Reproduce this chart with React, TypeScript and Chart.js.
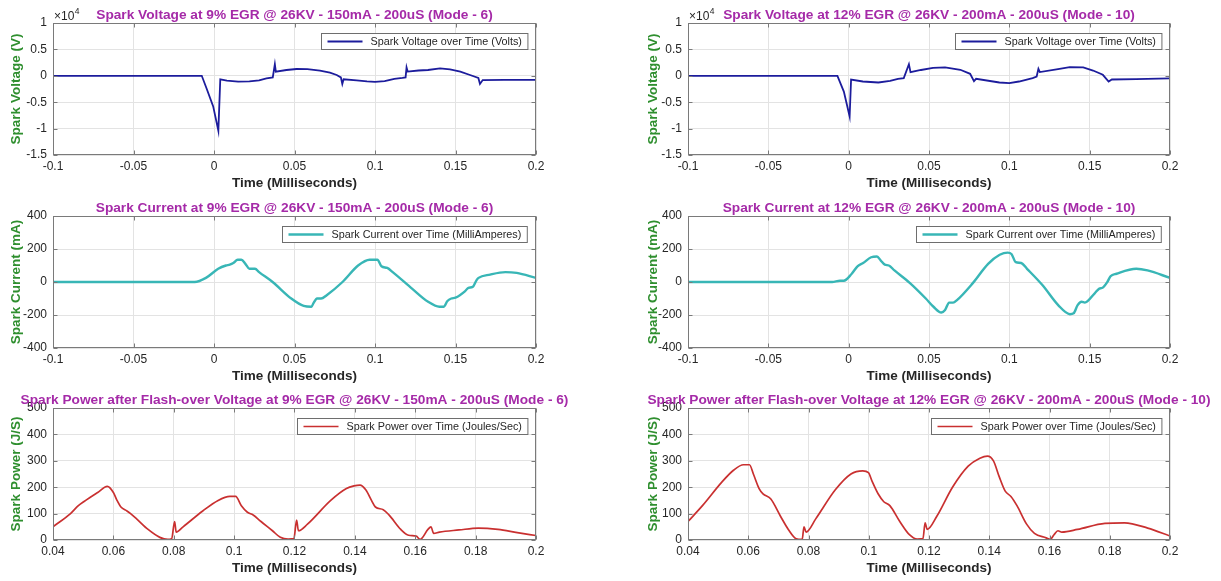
import React, { useEffect, useRef } from "react";
import { Chart, registerables } from "chart.js";

Chart.register(...registerables);

const FONT = "'Liberation Sans', Arial, Helvetica, sans-serif";

// ---------- Data (time in milliseconds) ----------
// Spark voltage, 9% EGR (Volts)
const tVolt9 = [-0.1, -0.05, -0.0076, -0.0046, -0.0005, 0.0027, 0.0039, 0.008, 0.015, 0.022, 0.028, 0.0326, 0.0365, 0.0378, 0.0384, 0.045, 0.0513, 0.058, 0.0658, 0.072, 0.0762, 0.0788, 0.0797, 0.0805, 0.0886, 0.095, 0.1, 0.106, 0.112, 0.117, 0.119, 0.1196, 0.1203, 0.127, 0.1329, 0.1404, 0.1466, 0.153, 0.159, 0.1642, 0.1652, 0.1669, 0.18, 0.2];
const vVolt9 = [0, 0, 0, -2400, -5800, -10400, -660, -900, -1100, -1050, -850, -470, -300, 2180, 780, 1100, 1290, 1250, 970, 600, 150, -300, -1550, -660, -870, -1050, -1150, -1000, -600, -400, -300, 1580, 800, 1000, 1100, 1420, 1230, 800, 150, -400, -1550, -800, -780, -760];

// Spark voltage, 12% EGR (Volts)
const tVolt12 = [-0.1, -0.05, -0.007, -0.003, 0.0006, 0.0015, 0.0088, 0.0185, 0.0258, 0.0307, 0.0343, 0.0375, 0.0385, 0.045, 0.0525, 0.06, 0.0695, 0.0756, 0.078, 0.0793, 0.0938, 0.1, 0.106, 0.1145, 0.117, 0.1181, 0.119, 0.1303, 0.1376, 0.146, 0.1521, 0.1582, 0.1618, 0.1638, 0.1789, 0.2];
const vVolt12 = [0, 0, 0, -3000, -7720, -700, -1080, -1270, -950, -570, -440, 2200, 700, 1100, 1500, 1580, 1140, 380, -1000, -570, -1270, -1400, -1080, -440, -130, 1330, 700, 1270, 1650, 1580, 1000, 190, -1080, -700, -630, -500];

// Spark current, 9% EGR (mA)
const tCurr9 = [-0.1, -0.012, -0.005, 0.0026, 0.0074, 0.0098, 0.012, 0.0147, 0.017, 0.0195, 0.022, 0.0255, 0.028, 0.0364, 0.048, 0.0557, 0.0605, 0.0617, 0.064, 0.0665, 0.07, 0.0798, 0.0895, 0.0967, 0.1015, 0.104, 0.1076, 0.111, 0.123, 0.133, 0.14, 0.1426, 0.145, 0.1474, 0.15, 0.156, 0.158, 0.1607, 0.163, 0.1643, 0.1715, 0.181, 0.188, 0.2];
const iCurr9 = [0, 0, 25, 80, 100, 105, 115, 135, 135, 110, 80, 80, 60, 0, -100, -145, -150, -130, -100, -100, -80, 0, 100, 135, 135, 95, 85, 60, -40, -120, -150, -150, -115, -100, -95, -55, -35, -30, 10, 25, 45, 60, 55, 25];

// Spark current, 12% EGR (mA)
const tCurr12 = [-0.1, -0.0103, -0.0054, -0.003, 0.0019, 0.0055, 0.009, 0.014, 0.0176, 0.02, 0.0225, 0.025, 0.0285, 0.038, 0.048, 0.0528, 0.0577, 0.06, 0.0625, 0.065, 0.0674, 0.077, 0.0868, 0.094, 0.099, 0.1013, 0.104, 0.1074, 0.111, 0.1207, 0.1304, 0.1377, 0.14, 0.1425, 0.145, 0.147, 0.153, 0.156, 0.158, 0.161, 0.163, 0.1667, 0.179, 0.186, 0.2];
const iCurr12 = [0, 0, 8, 8, 50, 95, 115, 150, 155, 130, 105, 100, 70, -5, -100, -150, -185, -170, -125, -125, -110, -10, 110, 165, 178, 170, 120, 115, 80, -20, -140, -195, -190, -140, -120, -125, -70, -40, -35, 0, 35, 50, 80, 70, 25];

// Spark power, 9% EGR (J/S)
const tPow9 = [0.04, 0.0458, 0.0484, 0.0503, 0.0548, 0.058, 0.06, 0.0612, 0.0625, 0.0645, 0.0657, 0.0677, 0.0715, 0.0754, 0.078, 0.0793, 0.0803, 0.0808, 0.0831, 0.0896, 0.0947, 0.0986, 0.1005, 0.1024, 0.1044, 0.1063, 0.1089, 0.1127, 0.1153, 0.1179, 0.1198, 0.1207, 0.1213, 0.1243, 0.132, 0.1372, 0.1397, 0.1417, 0.1436, 0.1455, 0.1468, 0.1494, 0.1513, 0.1552, 0.1578, 0.1603, 0.1616, 0.1642, 0.1652, 0.1661, 0.168, 0.1745, 0.1809, 0.1874, 0.1938, 0.2];
const pPow9 = [50, 100, 130, 146, 180, 203, 180, 150, 125, 110, 100, 80, 40, 10, 2, 5, 70, 30, 50, 110, 150, 165, 165, 130, 105, 95, 70, 35, 10, 3, 5, 75, 35, 60, 150, 195, 205, 208, 190, 150, 125, 115, 95, 40, 18, 15, 2, 40, 50, 25, 30, 38, 45, 40, 28, 17];

// Spark power, 12% EGR (J/S)
const tPow12 = [0.04, 0.0448, 0.0513, 0.0552, 0.0584, 0.0604, 0.0617, 0.0636, 0.0649, 0.0675, 0.0707, 0.0733, 0.0759, 0.0779, 0.0785, 0.0792, 0.0824, 0.0889, 0.0941, 0.098, 0.0999, 0.1012, 0.1031, 0.105, 0.107, 0.1103, 0.1135, 0.1161, 0.118, 0.1187, 0.1194, 0.1226, 0.1278, 0.133, 0.1369, 0.1394, 0.1414, 0.1433, 0.1453, 0.1472, 0.1492, 0.1524, 0.155, 0.1589, 0.1602, 0.1615, 0.1628, 0.1641, 0.1693, 0.1784, 0.1849, 0.1926, 0.2];
const pPow12 = [70, 130, 220, 265, 285, 285, 250, 195, 175, 155, 90, 40, 5, 2, 50, 30, 80, 190, 250, 262, 255, 220, 175, 145, 130, 70, 20, 3, 5, 65, 40, 90, 200, 280, 310, 318, 300, 240, 185, 165, 130, 60, 25, 8, 2, 20, 35, 30, 40, 63, 65, 45, 15];

// Titles / labels
const titles = [
  "Spark Voltage at 9% EGR @ 26KV - 150mA - 200uS (Mode - 6)",
  "Spark Voltage at 12% EGR @ 26KV - 200mA - 200uS (Mode - 10)",
  "Spark Current at 9% EGR @ 26KV - 150mA - 200uS (Mode - 6)",
  "Spark Current at 12% EGR @ 26KV - 200mA - 200uS (Mode - 10)",
  "Spark Power after Flash-over Voltage at 9% EGR @ 26KV - 150mA - 200uS (Mode - 6)",
  "Spark Power after Flash-over Voltage at 12% EGR @ 26KV - 200mA - 200uS (Mode - 10)",
];
const legendVolt = "Spark Voltage over Time (Volts)";
const legendCurr = "Spark Current over Time (MilliAmperes)";
const legendPow = "Spark Power over Time (Joules/Sec)";
const xTitle = "Time (Milliseconds)";

const TITLE_COLOR = "#a52aa8";
const YLABEL_COLOR = "#2f8f2f";
const AXIS_COLOR = "#262626";
const BOX_COLOR = "#7a7a7a";
const GRID_COLOR = "#e3e3e3";

type PanelCfg = {
  left: number;
  top: number;
  width: number;
  height: number;
  yWidth: number;
  padRight: number;
  yTitleOffset: number;
  title: string;
  legend: string;
  yTitle: string;
  color: string;
  lineWidth: number;
  t: number[];
  v: number[];
  xMin: number;
  xMax: number;
  xStep: number;
  yMin: number;
  yMax: number;
  yStep: number;
  yScaleDiv: number;
  exponent: boolean;
  smooth: boolean;
};

const fmt = (v: number) => String(Math.round(v * 1000) / 1000);

function Panel({ cfg }: { cfg: PanelCfg }) {
  const ref = useRef<HTMLCanvasElement | null>(null);
  useEffect(() => {
    const canvas = ref.current;
    if (!canvas) return;
    const H = cfg.height;
    const AREA_BOTTOM = 155;
    const xTitleCenter = 183;
    const decor = {
      id: "decor",
      afterDraw(chart: any) {
        const ctx = chart.ctx as CanvasRenderingContext2D;
        const ca = chart.chartArea;
        ctx.save();
        // axes box
        const l = Math.round(ca.left) + 0.5;
        const r = Math.round(ca.right) - 0.5;
        const tp = Math.round(ca.top) + 0.5;
        const b = Math.round(ca.bottom) - 0.5;
        ctx.strokeStyle = BOX_COLOR;
        ctx.lineWidth = 1;
        ctx.strokeRect(l, tp, r - l, b - tp);
        // inward tick marks
        const xs = chart.scales.x;
        const ys = chart.scales.y;
        ctx.beginPath();
        for (const tk of xs.ticks) {
          const px = Math.round(xs.getPixelForValue(tk.value)) + 0.5;
          ctx.moveTo(px, b);
          ctx.lineTo(px, b - 4);
          ctx.moveTo(px, tp);
          ctx.lineTo(px, tp + 4);
        }
        for (const tk of ys.ticks) {
          const py = Math.round(ys.getPixelForValue(tk.value)) + 0.5;
          ctx.moveTo(l, py);
          ctx.lineTo(l + 4, py);
          ctx.moveTo(r, py);
          ctx.lineTo(r - 4, py);
        }
        ctx.stroke();
        // title
        ctx.font = `bold 13.7px ${FONT}`;
        ctx.fillStyle = TITLE_COLOR;
        ctx.textAlign = "center";
        ctx.textBaseline = "middle";
        ctx.fillText(cfg.title, (ca.left + ca.right) / 2, ca.top - 8);
        // exponent
        if (cfg.exponent) {
          ctx.fillStyle = AXIS_COLOR;
          ctx.textAlign = "left";
          ctx.textBaseline = "alphabetic";
          ctx.font = `12px ${FONT}`;
          const base = "\u00d710";
          ctx.fillText(base, ca.left + 1, ca.top - 3);
          const w = ctx.measureText(base).width;
          ctx.font = `8.5px ${FONT}`;
          ctx.fillText("4", ca.left + 1 + w + 0.5, ca.top - 9);
        }
        // legend box
        ctx.font = `10.8px ${FONT}`;
        const tw = ctx.measureText(cfg.legend).width;
        const lw = 6 + 35 + 8 + tw + 6;
        const lh = 16;
        const lx = Math.round(ca.right - 9 - lw) + 0.5;
        const ly = Math.round(ca.top + 10) + 0.5;
        ctx.fillStyle = "#ffffff";
        ctx.fillRect(lx, ly, lw, lh);
        ctx.strokeStyle = "#6e6e6e";
        ctx.lineWidth = 1;
        ctx.strokeRect(lx, ly, lw, lh);
        ctx.strokeStyle = cfg.color;
        ctx.lineWidth = cfg.lineWidth;
        ctx.beginPath();
        ctx.moveTo(lx + 6, ly + lh / 2);
        ctx.lineTo(lx + 41, ly + lh / 2);
        ctx.stroke();
        ctx.fillStyle = AXIS_COLOR;
        ctx.textAlign = "left";
        ctx.textBaseline = "middle";
        ctx.fillText(cfg.legend, lx + 49, ly + lh / 2 + 0.5);
        ctx.restore();
      },
    };

    const points = cfg.t.map((x, i) => ({ x, y: cfg.v[i] }));

    const chart = new Chart(canvas, {
      type: "line",
      data: {
        datasets: [
          {
            label: cfg.legend,
            data: points,
            borderColor: cfg.color,
            backgroundColor: cfg.color,
            borderWidth: cfg.lineWidth,
            pointRadius: 0,
            tension: 0,
            cubicInterpolationMode: cfg.smooth ? "monotone" : "default",
            fill: false,
          },
        ],
      },
      options: {
        animation: false,
        responsive: false,
        devicePixelRatio: 1,
        layout: { padding: { left: 0, right: cfg.padRight, top: 23, bottom: 0 } },
        plugins: {
          legend: { display: false },
          title: { display: false },
          tooltip: { enabled: false },
        },
        elements: { point: { radius: 0 } },
        scales: {
          x: {
            type: "linear",
            min: cfg.xMin,
            max: cfg.xMax,
            ticks: {
              stepSize: cfg.xStep,
              padding: 4,
              color: AXIS_COLOR,
              font: { family: FONT, size: 12 },
              maxRotation: 0,
              autoSkip: false,
              callback: (v: any) => fmt(Number(v)),
            },
            grid: { color: GRID_COLOR, drawTicks: false, lineWidth: 1 },
            border: { display: false },
            title: {
              display: true,
              text: xTitle,
              color: AXIS_COLOR,
              font: { family: FONT, size: 13.5, weight: "bold" },
              padding: { top: 0, bottom: Math.max(0, H - xTitleCenter - 8.1) },
            },
            afterFit: (s: any) => {
              s.height = H - AREA_BOTTOM;
            },
          },
          y: {
            type: "linear",
            min: cfg.yMin,
            max: cfg.yMax,
            ticks: {
              stepSize: cfg.yStep,
              padding: 6,
              color: AXIS_COLOR,
              font: { family: FONT, size: 12 },
              autoSkip: false,
              callback: (v: any) => fmt(Number(v) / cfg.yScaleDiv),
            },
            grid: { color: GRID_COLOR, drawTicks: false, lineWidth: 1 },
            border: { display: false },
            title: {
              display: true,
              text: cfg.yTitle,
              color: YLABEL_COLOR,
              font: { family: FONT, size: 13.5, weight: "bold" },
              padding: { top: cfg.yTitleOffset, bottom: 0 },
            },
            afterFit: (s: any) => {
              s.width = cfg.yWidth;
            },
          },
        },
      },
      plugins: [decor],
    } as any);
    return () => chart.destroy();
  }, [cfg]);

  return (
    <div
      style={{
        position: "absolute",
        left: cfg.left,
        top: cfg.top,
        width: cfg.width,
        height: cfg.height,
      }}
    >
      <canvas
        ref={ref}
        width={cfg.width}
        height={cfg.height}
        style={{ width: cfg.width + "px", height: cfg.height + "px", display: "block" }}
      />
    </div>
  );
}

const VOLT_COLOR = "#1c1c9c";
const CURR_COLOR = "#38b6b6";
const POW_COLOR = "#c93030";

const rows = [
  { top: 0, height: 193 },
  { top: 193, height: 192 },
  { top: 385, height: 196 },
];
const cols = [
  { left: 0, width: 610, yWidth: 53, padRight: 74, yTitleOffset: 8 },
  { left: 610, width: 611, yWidth: 78, padRight: 51, yTitleOffset: 35 },
];

const voltCommon = {
  legend: legendVolt,
  yTitle: "Spark Voltage (V)",
  color: VOLT_COLOR,
  lineWidth: 1.8,
  xMin: -0.1,
  xMax: 0.2,
  xStep: 0.05,
  yMin: -15000,
  yMax: 10000,
  yStep: 5000,
  yScaleDiv: 10000,
  exponent: true,
  smooth: false,
};
const currCommon = {
  legend: legendCurr,
  yTitle: "Spark Current (mA)",
  color: CURR_COLOR,
  lineWidth: 2.4,
  xMin: -0.1,
  xMax: 0.2,
  xStep: 0.05,
  yMin: -400,
  yMax: 400,
  yStep: 200,
  yScaleDiv: 1,
  exponent: false,
  smooth: true,
};
const powCommon = {
  legend: legendPow,
  yTitle: "Spark Power (J/S)",
  color: POW_COLOR,
  lineWidth: 1.7,
  xMin: 0.04,
  xMax: 0.2,
  xStep: 0.02,
  yMin: 0,
  yMax: 500,
  yStep: 100,
  yScaleDiv: 1,
  exponent: false,
  smooth: true,
};

const panels: PanelCfg[] = [
  { ...rows[0], ...cols[0], ...voltCommon, title: titles[0], t: tVolt9, v: vVolt9 },
  { ...rows[0], ...cols[1], ...voltCommon, title: titles[1], t: tVolt12, v: vVolt12 },
  { ...rows[1], ...cols[0], ...currCommon, title: titles[2], t: tCurr9, v: iCurr9 },
  { ...rows[1], ...cols[1], ...currCommon, title: titles[3], t: tCurr12, v: iCurr12 },
  { ...rows[2], ...cols[0], ...powCommon, title: titles[4], t: tPow9, v: pPow9 },
  { ...rows[2], ...cols[1], ...powCommon, title: titles[5], t: tPow12, v: pPow12 },
];

export default function App() {
  return (
    <div
      style={{
        position: "absolute",
        left: 0,
        top: 0,
        width: 1221,
        height: 581,
        background: "#ffffff",
        overflow: "hidden",
      }}
    >
      {panels.map((p, i) => (
        <Panel key={i} cfg={p} />
      ))}
    </div>
  );
}
